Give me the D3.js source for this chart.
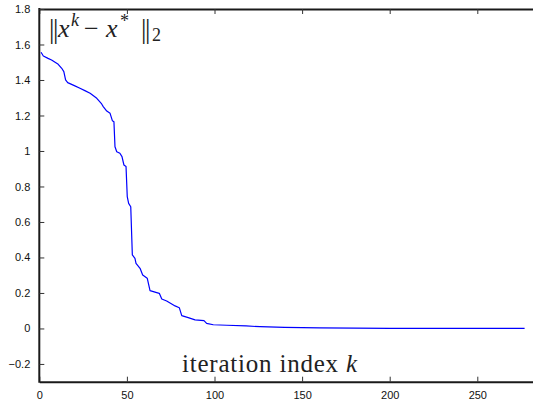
<!DOCTYPE html>
<html>
<head>
<meta charset="utf-8">
<script src="https://cdn.jsdelivr.net/npm/d3@7"></script>
<style>
  html, body { margin: 0; padding: 0; background: #fff; }
  svg { display: block; }
</style>
</head>
<body>
<svg id="chart" width="533" height="405"></svg>
<script>
// Data
const iterK = [1, 2.3, 5, 7, 10.8, 12.8, 14, 15, 16.2, 20, 23.2, 26, 29, 32.8, 35.6, 36.5, 38.5, 40.4, 41.7, 42.6, 43.2, 44.2, 46, 47.2, 48.3, 49.5, 50.2, 51, 52.2, 53.1, 54.6, 55.2, 57.5, 59, 61.6, 63.2, 67, 68.5, 69.9, 72.7, 77.5, 79.9, 81.3, 85, 88.9, 94, 95.5, 99.3, 107, 118, 126, 140, 160, 200, 240, 277];
const errNorm = [1.556, 1.535, 1.522, 1.513, 1.488, 1.466, 1.447, 1.400, 1.385, 1.368, 1.353, 1.340, 1.325, 1.297, 1.265, 1.250, 1.225, 1.212, 1.171, 1.165, 1.024, 0.996, 0.987, 0.968, 0.921, 0.912, 0.743, 0.705, 0.686, 0.414, 0.395, 0.367, 0.339, 0.301, 0.283, 0.213, 0.202, 0.198, 0.166, 0.155, 0.127, 0.117, 0.072, 0.061, 0.048, 0.044, 0.029, 0.021, 0.018, 0.014, 0.010, 0.006, 0.003, 0.001, 0.0005, 0];
const xTicks = [0, 50, 100, 150, 200, 250];
const yTicks = [-0.2, 0, 0.2, 0.4, 0.6, 0.8, 1, 1.2, 1.4, 1.6, 1.8];
const xLabelText = "iteration index ";
const xLabelVar = "k";

const svg = d3.select("#chart");
const padLeft = 39.3, padTop = 9, padBottom = 381.7, rightEnd = 564.9;

const x = d3.scaleLinear().domain([0, 300]).range([padLeft, rightEnd]);
const y = d3.scaleLinear().domain([-0.3, 1.8]).range([padBottom, padTop]);

const fmtY = d => d === 0 ? "0" : (d < 0 ? "\u2212" + Math.abs(d) : String(d));

// Bottom axis (ticks inward)
const gx = svg.append("g").attr("transform", `translate(0,${padBottom})`)
  .call(d3.axisBottom(x).tickValues(xTicks).tickSizeInner(-5).tickSizeOuter(0).tickPadding(10).tickFormat(d3.format("d")));
// Top axis (mirror ticks)
const gt = svg.append("g").attr("transform", `translate(0,${padTop})`)
  .call(d3.axisTop(x).tickValues(xTicks).tickSizeInner(-5).tickSizeOuter(0).tickFormat(""));
// Left axis
const gy = svg.append("g").attr("transform", `translate(${padLeft},0)`)
  .call(d3.axisLeft(y).tickValues(yTicks).tickSizeInner(-5).tickSizeOuter(0).tickPadding(9).tickFormat(fmtY));

[gx, gt, gy].forEach(g => {
  g.select(".domain").attr("stroke", "#1a1a1a").attr("stroke-width", 2);
  g.selectAll(".tick line").attr("stroke", "#333").attr("stroke-width", 1);
  g.selectAll(".tick text").attr("font-family", "Liberation Sans, Arial, sans-serif")
    .attr("font-size", 11).attr("fill", "#111");
});
gy.select(".domain").attr("d", `M0,${padTop - 1}V${padBottom + 1}`);

// Data line
const line = d3.line().x((d, i) => x(iterK[i])).y(d => y(d));
svg.append("path").datum(errNorm)
  .attr("fill", "none").attr("stroke", "#0000ff").attr("stroke-width", 1.2)
  .attr("stroke-linejoin", "round")
  .attr("d", line);

// Y label inside plot: ||x^k - x^*||_2
const serif = "Liberation Serif, Times New Roman, serif";
const yl = svg.append("text").attr("y", 37)
  .attr("font-family", serif).attr("font-size", 26).attr("fill", "#222");
yl.append("tspan").attr("x", 49).attr("y", 38).attr("font-size", 27).text("|");
yl.append("tspan").attr("x", 53).attr("font-size", 27).text("|");
yl.append("tspan").attr("x", 58).attr("y", 37).attr("font-style", "italic").text("x");
yl.append("tspan").attr("x", 71).attr("y", 26).attr("font-style", "italic").attr("font-size", 18).text("k");
yl.append("tspan").attr("x", 84).attr("y", 37).text("\u2212");
yl.append("tspan").attr("x", 106).attr("font-style", "italic").text("x");
yl.append("tspan").attr("x", 120).attr("y", 27).attr("font-size", 18).text("*");
yl.append("tspan").attr("x", 141).attr("y", 38).attr("font-size", 27).text("|");
yl.append("tspan").attr("x", 145).attr("font-size", 27).text("|");
yl.append("tspan").attr("x", 152).attr("y", 41).attr("font-size", 18).text("2");

// X label inside plot
const xl = svg.append("text").attr("x", 182).attr("y", 372)
  .attr("font-family", serif).attr("font-size", 25).attr("fill", "#222")
  .attr("textLength", 175).attr("lengthAdjust", "spacing");
xl.append("tspan").text(xLabelText);
xl.append("tspan").attr("font-style", "italic").text(xLabelVar);
</script>
</body>
</html>
